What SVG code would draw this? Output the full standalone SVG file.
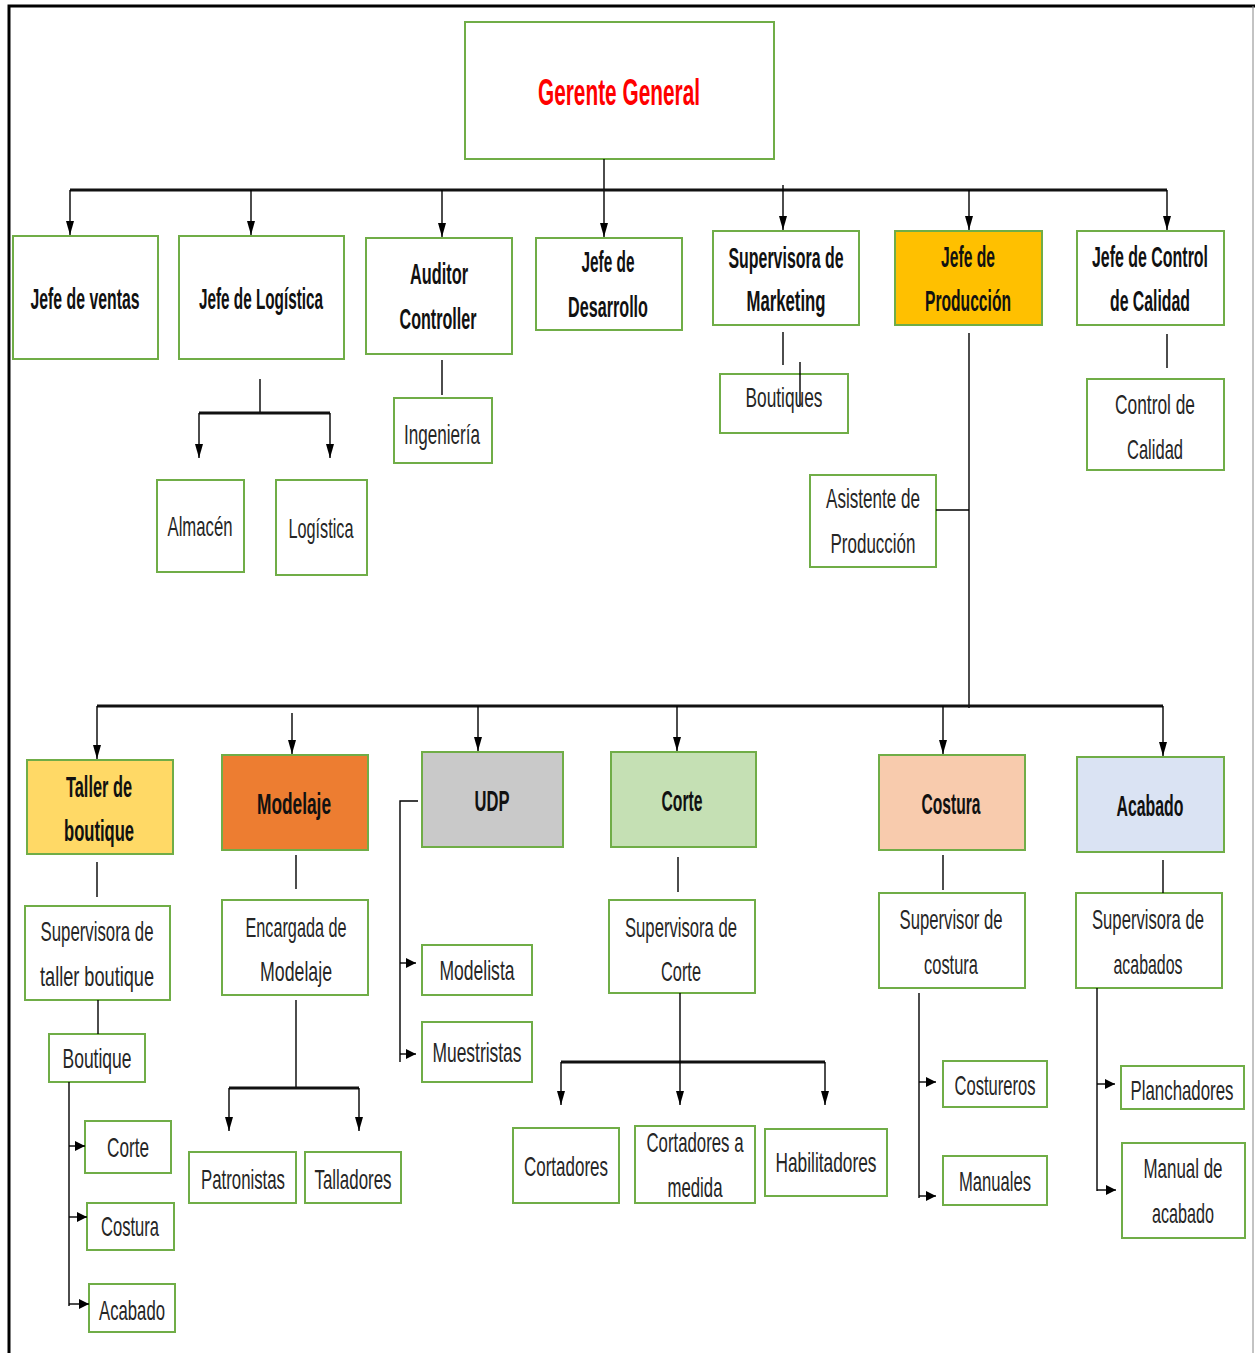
<svg xmlns="http://www.w3.org/2000/svg" width="1255" height="1353" viewBox="0 0 1255 1353">
<style>
.box{fill:#fff;stroke:#70AD47;stroke-width:2}
text{font-family:"Liberation Sans",Arial,sans-serif;text-anchor:middle}
.b{font-size:29px;font-weight:bold;fill:#111}
.n{font-size:28px;fill:#262626}
.g{font-size:37px;font-weight:bold;fill:#FF0000}
.ln{fill:none;stroke:#000;stroke-width:1.4}
.bus{fill:none;stroke:#111;stroke-width:3}
.ar{marker-end:url(#ah)}
.sa{marker-end:url(#sh)}
</style>
<defs>
<marker id="ah" viewBox="0 0 14 8" refX="14" refY="4" markerWidth="14" markerHeight="8" markerUnits="userSpaceOnUse" orient="auto"><path d="M0,0L14,4L0,8z" fill="#000"/></marker>
<marker id="sh" viewBox="0 0 10 10" refX="10" refY="5" markerWidth="10" markerHeight="10" markerUnits="userSpaceOnUse" orient="auto"><path d="M0,0L10,5L0,10z" fill="#000"/></marker>
</defs>
<rect width="1255" height="1353" fill="#fff"/>
<path d="M9,1353V6H1255" fill="none" stroke="#000" stroke-width="3"/>
<path d="M1253,6V1353" fill="none" stroke="#888" stroke-width="1"/>

<g id="gerente"><rect class="box" x="465" y="22" width="309" height="137"/><text class="g" x="619" y="105" textLength="162" lengthAdjust="spacingAndGlyphs">Gerente General</text></g>

<g id="jefe-ventas"><rect class="box" x="13" y="236" width="145" height="123"/><text class="b" x="85" y="309" textLength="109" lengthAdjust="spacingAndGlyphs">Jefe de ventas</text></g>
<g id="jefe-logistica"><rect class="box" x="179" y="236" width="165" height="123"/><text class="b" x="261" y="309" textLength="124" lengthAdjust="spacingAndGlyphs">Jefe de Logística</text></g>
<g id="auditor"><rect class="box" x="366" y="238" width="146" height="116"/><text class="b" x="439" y="284" textLength="58" lengthAdjust="spacingAndGlyphs">Auditor</text><text class="b" x="438" y="329" textLength="77" lengthAdjust="spacingAndGlyphs">Controller</text></g>
<g id="jefe-desarrollo"><rect class="box" x="536" y="238" width="146" height="92"/><text class="b" x="608" y="272" textLength="53" lengthAdjust="spacingAndGlyphs">Jefe de</text><text class="b" x="608" y="317" textLength="80" lengthAdjust="spacingAndGlyphs">Desarrollo</text></g>
<g id="sup-marketing"><rect class="box" x="713" y="231" width="146" height="94"/><text class="b" x="786" y="268" textLength="115" lengthAdjust="spacingAndGlyphs">Supervisora de</text><text class="b" x="786" y="311" textLength="79" lengthAdjust="spacingAndGlyphs">Marketing</text></g>
<g id="jefe-produccion"><rect class="box" x="895" y="231" width="147" height="94" style="fill:#FFC000"/><text class="b" x="968" y="267" textLength="54" lengthAdjust="spacingAndGlyphs">Jefe de</text><text class="b" x="968" y="311" textLength="86" lengthAdjust="spacingAndGlyphs">Producción</text></g>
<g id="jefe-control"><rect class="box" x="1077" y="231" width="147" height="94"/><text class="b" x="1150" y="267" textLength="116" lengthAdjust="spacingAndGlyphs">Jefe de Control</text><text class="b" x="1150" y="311" textLength="80" lengthAdjust="spacingAndGlyphs">de Calidad</text></g>

<g id="almacen"><rect class="box" x="157" y="480" width="87" height="92"/><text class="n" x="200" y="536" textLength="65" lengthAdjust="spacingAndGlyphs">Almacén</text></g>
<g id="logistica"><rect class="box" x="276" y="480" width="91" height="95"/><text class="n" x="321" y="538" textLength="65" lengthAdjust="spacingAndGlyphs">Logística</text></g>
<g id="ingenieria"><rect class="box" x="394" y="398" width="98" height="65"/><text class="n" x="442" y="444" textLength="76" lengthAdjust="spacingAndGlyphs">Ingeniería</text></g>
<g id="boutiques"><rect class="box" x="720" y="374" width="128" height="59"/><text class="n" x="784" y="407" textLength="77" lengthAdjust="spacingAndGlyphs">Boutiques</text></g>
<g id="control-calidad"><rect class="box" x="1087" y="379" width="137" height="91"/><text class="n" x="1155" y="414" textLength="80" lengthAdjust="spacingAndGlyphs">Control de</text><text class="n" x="1155" y="459" textLength="56" lengthAdjust="spacingAndGlyphs">Calidad</text></g>
<g id="asistente"><rect class="box" x="810" y="475" width="126" height="92"/><text class="n" x="873" y="508" textLength="94" lengthAdjust="spacingAndGlyphs">Asistente de</text><text class="n" x="873" y="553" textLength="85" lengthAdjust="spacingAndGlyphs">Producción</text></g>

<g id="taller"><rect class="box" x="27" y="760" width="146" height="94" style="fill:#FFD966"/><text class="b" x="99" y="797" textLength="66" lengthAdjust="spacingAndGlyphs">Taller de</text><text class="b" x="99" y="841" textLength="70" lengthAdjust="spacingAndGlyphs">boutique</text></g>
<g id="modelaje"><rect class="box" x="222" y="755" width="146" height="95" style="fill:#ED7D31"/><text class="b" x="294" y="814" textLength="74" lengthAdjust="spacingAndGlyphs">Modelaje</text></g>
<g id="udp"><rect class="box" x="422" y="752" width="141" height="95" style="fill:#C9C9C9"/><text class="b" x="492" y="811" textLength="35" lengthAdjust="spacingAndGlyphs">UDP</text></g>
<g id="corte"><rect class="box" x="611" y="752" width="145" height="95" style="fill:#C5E0B4"/><text class="b" x="682" y="811" textLength="41" lengthAdjust="spacingAndGlyphs">Corte</text></g>
<g id="costura"><rect class="box" x="879" y="755" width="146" height="95" style="fill:#F8CBAD"/><text class="b" x="951" y="814" textLength="59" lengthAdjust="spacingAndGlyphs">Costura</text></g>
<g id="acabado"><rect class="box" x="1077" y="757" width="147" height="95" style="fill:#DAE3F3"/><text class="b" x="1150" y="816" textLength="67" lengthAdjust="spacingAndGlyphs">Acabado</text></g>

<g id="sup-taller"><rect class="box" x="25" y="906" width="145" height="94"/><text class="n" x="97" y="941" textLength="113" lengthAdjust="spacingAndGlyphs">Supervisora de</text><text class="n" x="97" y="986" textLength="114" lengthAdjust="spacingAndGlyphs">taller boutique</text></g>
<g id="boutique"><rect class="box" x="49" y="1034" width="96" height="48"/><text class="n" x="97" y="1068" textLength="69" lengthAdjust="spacingAndGlyphs">Boutique</text></g>
<g id="b-corte"><rect class="box" x="85" y="1121" width="86" height="52"/><text class="n" x="128" y="1157" textLength="42" lengthAdjust="spacingAndGlyphs">Corte</text></g>
<g id="b-costura"><rect class="box" x="87" y="1203" width="87" height="47"/><text class="n" x="130" y="1236" textLength="58" lengthAdjust="spacingAndGlyphs">Costura</text></g>
<g id="b-acabado"><rect class="box" x="89" y="1284" width="86" height="48"/><text class="n" x="132" y="1320" textLength="66" lengthAdjust="spacingAndGlyphs">Acabado</text></g>

<g id="encargada"><rect class="box" x="222" y="900" width="146" height="95"/><text class="n" x="296" y="937" textLength="101" lengthAdjust="spacingAndGlyphs">Encargada de</text><text class="n" x="296" y="981" textLength="72" lengthAdjust="spacingAndGlyphs">Modelaje</text></g>
<g id="patronistas"><rect class="box" x="189" y="1152" width="107" height="51"/><text class="n" x="243" y="1189" textLength="84" lengthAdjust="spacingAndGlyphs">Patronistas</text></g>
<g id="talladores"><rect class="box" x="305" y="1152" width="96" height="51"/><text class="n" x="353" y="1189" textLength="77" lengthAdjust="spacingAndGlyphs">Talladores</text></g>

<g id="modelista"><rect class="box" x="422" y="945" width="110" height="50"/><text class="n" x="477" y="980" textLength="75" lengthAdjust="spacingAndGlyphs">Modelista</text></g>
<g id="muestristas"><rect class="box" x="422" y="1022" width="110" height="60"/><text class="n" x="477" y="1062" textLength="89" lengthAdjust="spacingAndGlyphs">Muestristas</text></g>

<g id="sup-corte"><rect class="box" x="609" y="900" width="146" height="93"/><text class="n" x="681" y="937" textLength="112" lengthAdjust="spacingAndGlyphs">Supervisora de</text><text class="n" x="681" y="981" textLength="40" lengthAdjust="spacingAndGlyphs">Corte</text></g>
<g id="cortadores"><rect class="box" x="513" y="1128" width="106" height="75"/><text class="n" x="566" y="1176" textLength="84" lengthAdjust="spacingAndGlyphs">Cortadores</text></g>
<g id="cortadores-medida"><rect class="box" x="635" y="1126" width="120" height="77"/><text class="n" x="695" y="1152" textLength="97" lengthAdjust="spacingAndGlyphs">Cortadores a</text><text class="n" x="695" y="1197" textLength="55" lengthAdjust="spacingAndGlyphs">medida</text></g>
<g id="habilitadores"><rect class="box" x="765" y="1129" width="122" height="67"/><text class="n" x="826" y="1172" textLength="101" lengthAdjust="spacingAndGlyphs">Habilitadores</text></g>

<g id="sup-costura"><rect class="box" x="879" y="893" width="146" height="95"/><text class="n" x="951" y="929" textLength="103" lengthAdjust="spacingAndGlyphs">Supervisor de</text><text class="n" x="951" y="974" textLength="54" lengthAdjust="spacingAndGlyphs">costura</text></g>
<g id="costureros"><rect class="box" x="943" y="1061" width="104" height="46"/><text class="n" x="995" y="1095" textLength="81" lengthAdjust="spacingAndGlyphs">Costureros</text></g>
<g id="manuales"><rect class="box" x="943" y="1156" width="104" height="49"/><text class="n" x="995" y="1191" textLength="72" lengthAdjust="spacingAndGlyphs">Manuales</text></g>

<g id="sup-acabados"><rect class="box" x="1076" y="893" width="146" height="95"/><text class="n" x="1148" y="929" textLength="112" lengthAdjust="spacingAndGlyphs">Supervisora de</text><text class="n" x="1148" y="974" textLength="69" lengthAdjust="spacingAndGlyphs">acabados</text></g>
<g id="planchadores"><rect class="box" x="1121" y="1066" width="123" height="43"/><text class="n" x="1182" y="1100" textLength="103" lengthAdjust="spacingAndGlyphs">Planchadores</text></g>
<g id="manual-acabado"><rect class="box" x="1122" y="1143" width="123" height="95"/><text class="n" x="1183" y="1178" textLength="79" lengthAdjust="spacingAndGlyphs">Manual de</text><text class="n" x="1183" y="1223" textLength="62" lengthAdjust="spacingAndGlyphs">acabado</text></g>

<g id="connectors">
<path class="ln ar" d="M604,159V237"/>
<path class="bus" d="M70,190H1167"/>
<path class="ln ar" d="M70,190V235"/>
<path class="ln ar" d="M251,190V235"/>
<path class="ln ar" d="M442,190V237"/>
<path class="ln ar" d="M783,185V230"/>
<path class="ln ar" d="M969,190V230"/>
<path class="ln ar" d="M1167,190V230"/>
<path class="ln" d="M260,379V413"/>
<path class="bus" d="M199,413H330"/>
<path class="ln ar" d="M199,413V458"/>
<path class="ln ar" d="M330,413V458"/>
<path class="ln" d="M442,360V395"/>
<path class="ln" d="M783,332V365"/>
<path class="ln" d="M800,362V405"/>
<path class="ln" d="M1167,334V368"/>
<path class="ln" d="M969,333V708"/>
<path class="ln" d="M936,510H969" stroke-width="2.5"/>
<path class="bus" d="M97,706H1163"/>
<path class="ln ar" d="M97,706V759"/>
<path class="ln ar" d="M292,713V754"/>
<path class="ln ar" d="M478,706V751"/>
<path class="ln ar" d="M677,706V751"/>
<path class="ln ar" d="M943,706V754"/>
<path class="ln ar" d="M1163,706V756"/>
<path class="ln" d="M97,862V897"/>
<path class="ln" d="M98,1000V1034"/>
<path class="ln" d="M69,1082V1306"/>
<path class="ln sa" d="M69,1146H85"/>
<path class="ln sa" d="M69,1217H87"/>
<path class="ln sa" d="M69,1304H89"/>
<path class="ln" d="M296,855V889"/>
<path class="ln" d="M296,1000V1088"/>
<path class="bus" d="M229,1088H359" stroke-width="2.5"/>
<path class="ln ar" d="M229,1088V1131"/>
<path class="ln ar" d="M359,1088V1131"/>
<path class="ln" d="M418,801H400V1062"/>
<path class="ln sa" d="M400,963H416"/>
<path class="ln sa" d="M400,1054H416"/>
<path class="ln" d="M678,857V892"/>
<path class="bus" d="M561,1062H825" stroke-width="2.5"/>
<path class="ln ar" d="M680,993V1105"/>
<path class="ln ar" d="M561,1062V1105"/>
<path class="ln ar" d="M825,1062V1105"/>
<path class="ln" d="M943,855V890"/>
<path class="ln" d="M919,993V1198"/>
<path class="ln sa" d="M919,1082H936"/>
<path class="ln sa" d="M919,1196H936"/>
<path class="ln" d="M1163,860V893"/>
<path class="ln" d="M1097,988V1191"/>
<path class="ln sa" d="M1097,1084H1115"/>
<path class="ln sa" d="M1097,1190H1116"/>
</g>
</svg>
